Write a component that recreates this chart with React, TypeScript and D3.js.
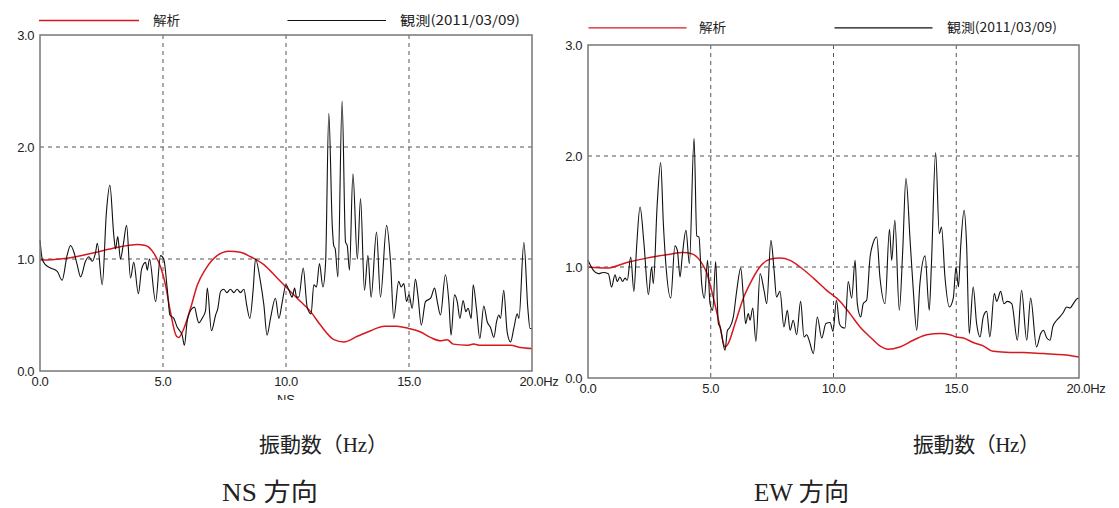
import React from "react";
import * as d3 from "d3";

type P = [number, number];

const xTicks = [0, 5, 10, 15, 20];
const yTicks = [0, 1, 2, 3];
const xTickLabels = ["0.0", "5.0", "10.0", "15.0", "20.0"];
const yTickLabels = ["0.0", "1.0", "2.0", "3.0"];
const legendLabels = ["解析", "観測(2011/03/09)"];
const axisTitle = "振動数（Hz）";
const panelTitles = ["NS 方向", "EW 方向"];

// NS observed spectrum ratio (frequency Hz, value)
const nsObserved: P[] = [
  [0, 1.17], [0.09, 1.0], [0.22, 0.95], [0.43, 0.92], [0.7, 0.89], [0.9, 0.81], [1.1, 1.03], [1.24, 1.12],
  [1.38, 1.06], [1.51, 0.95], [1.65, 0.84], [1.85, 0.98], [1.99, 1.02], [2.12, 0.98], [2.26, 1.06], [2.33, 1.14],
  [2.53, 0.77], [2.7, 1.42], [2.84, 1.66], [3.0, 1.21], [3.07, 1.09], [3.16, 1.2], [3.27, 1.0], [3.38, 1.12],
  [3.52, 1.3], [3.68, 0.83], [3.81, 0.97], [4.0, 0.69], [4.13, 0.91], [4.29, 0.97], [4.36, 0.9], [4.45, 1.0],
  [4.7, 0.62], [4.9, 1.03], [5.03, 1.0], [5.17, 0.74], [5.28, 0.5], [5.44, 0.47], [5.58, 0.39], [5.68, 0.36],
  [5.78, 0.32], [5.87, 0.23], [5.98, 0.44], [6.12, 0.54], [6.28, 0.57], [6.39, 0.47], [6.45, 0.43], [6.59, 0.47],
  [6.73, 0.54], [6.8, 0.74], [6.97, 0.36], [7.14, 0.5], [7.23, 0.56], [7.34, 0.71], [7.47, 0.73], [7.6, 0.7],
  [7.74, 0.73], [7.88, 0.7], [8.01, 0.73], [8.15, 0.7], [8.29, 0.73], [8.4, 0.59], [8.53, 0.47], [8.67, 0.74],
  [8.76, 1.0], [8.96, 0.8], [9.1, 0.59], [9.23, 0.32], [9.37, 0.47], [9.57, 0.65], [9.71, 0.47], [9.85, 0.62],
  [10.0, 0.77], [10.12, 0.72], [10.25, 0.66], [10.35, 0.74], [10.43, 0.66], [10.52, 0.66], [10.7, 0.92], [10.86, 0.57],
  [11.02, 0.51], [11.13, 0.77], [11.24, 0.75], [11.36, 0.96], [11.5, 0.75], [11.61, 0.97], [11.74, 2.3], [11.88, 1.3],
  [11.94, 1.12], [12.0, 1.09], [12.11, 0.84], [12.28, 2.41], [12.42, 1.15], [12.49, 1.12], [12.58, 0.9], [12.72, 1.76],
  [12.9, 1.0], [13.03, 1.54], [13.19, 0.72], [13.33, 1.03], [13.46, 0.66], [13.68, 1.24], [13.84, 0.66], [14.09, 1.3],
  [14.25, 0.97], [14.38, 0.47], [14.58, 0.8], [14.68, 0.75], [14.79, 0.78], [14.9, 0.62], [15.0, 0.68], [15.13, 0.56],
  [15.26, 0.82], [15.36, 0.68], [15.5, 0.41], [15.67, 0.62], [15.88, 0.65], [16.04, 0.74], [16.15, 0.62], [16.28, 0.5],
  [16.48, 0.86], [16.62, 0.62], [16.71, 0.32], [16.85, 0.68], [16.96, 0.62], [17.07, 0.47], [17.2, 0.63], [17.31, 0.53],
  [17.4, 0.56], [17.53, 0.47], [17.61, 0.77], [17.74, 0.56], [17.88, 0.29], [18.04, 0.58], [18.18, 0.44], [18.31, 0.39],
  [18.45, 0.3], [18.56, 0.44], [18.65, 0.5], [18.72, 0.47], [18.85, 0.72], [18.99, 0.35], [19.13, 0.26], [19.26, 0.38],
  [19.4, 0.51], [19.47, 0.47], [19.67, 1.15], [19.83, 0.56], [19.92, 0.38], [20.0, 0.38],
];

// NS analysis
const nsAnalysis: P[] = [
  [0, 0.99], [0.83, 1.0], [1.65, 1.03], [2.46, 1.07], [3.27, 1.11], [3.95, 1.13], [4.29, 1.12], [4.63, 1.05],
  [4.9, 0.93], [5.1, 0.77], [5.3, 0.53], [5.55, 0.31], [5.64, 0.3], [5.85, 0.38], [6.12, 0.56], [6.4, 0.77],
  [6.73, 0.91], [7.2, 1.03], [7.68, 1.07], [8.15, 1.06], [8.56, 1.02], [9.1, 0.95], [9.64, 0.83], [10.18, 0.71],
  [10.59, 0.62], [11.0, 0.53], [11.4, 0.41], [11.95, 0.28], [12.35, 0.26], [12.9, 0.31], [13.44, 0.36], [14.0, 0.4],
  [14.5, 0.4], [14.98, 0.38], [15.45, 0.35], [15.87, 0.3], [16.28, 0.27], [16.55, 0.28], [16.8, 0.24], [17.36, 0.23],
  [17.63, 0.24], [17.9, 0.23], [18.5, 0.23], [19.13, 0.23], [19.53, 0.21], [20.0, 0.2],
];

// EW observed
const ewObserved: P[] = [
  [0, 1.06], [0.22, 0.97], [0.42, 0.94], [0.62, 0.95], [0.83, 0.94], [0.96, 0.82], [1.1, 0.93], [1.19, 0.87],
  [1.3, 0.91], [1.41, 0.87], [1.51, 0.9], [1.6, 0.88], [1.74, 1.09], [1.87, 0.78], [1.98, 1.18], [2.12, 1.54],
  [2.28, 1.21], [2.46, 0.75], [2.59, 1.0], [2.66, 0.85], [2.82, 1.57], [2.96, 1.94], [3.07, 1.39], [3.18, 1.0],
  [3.37, 0.72], [3.54, 1.19], [3.64, 1.15], [3.75, 0.91], [3.84, 1.1], [3.99, 1.33], [4.13, 1.03], [4.32, 2.16],
  [4.43, 1.28], [4.52, 1.27], [4.63, 0.85], [4.74, 0.72], [4.87, 1.06], [4.97, 0.67], [5.08, 0.61], [5.2, 1.05],
  [5.31, 0.49], [5.38, 0.46], [5.58, 0.25], [5.68, 0.43], [5.76, 0.45], [5.92, 0.55], [6.06, 0.79], [6.22, 0.99],
  [6.33, 0.73], [6.42, 0.49], [6.53, 0.58], [6.6, 0.52], [6.71, 0.63], [6.84, 0.33], [7.01, 0.94], [7.17, 0.79],
  [7.28, 0.67], [7.45, 1.24], [7.58, 0.97], [7.68, 0.73], [7.82, 0.78], [7.98, 0.46], [8.12, 0.61], [8.23, 0.43],
  [8.36, 0.52], [8.5, 0.39], [8.66, 0.69], [8.8, 0.37], [8.91, 0.39], [9.02, 0.33], [9.18, 0.22], [9.34, 0.55],
  [9.52, 0.36], [9.69, 0.49], [9.86, 0.5], [9.98, 0.42], [10.12, 0.7], [10.24, 0.49], [10.33, 0.46], [10.47, 0.45],
  [10.6, 0.87], [10.74, 0.72], [10.88, 1.06], [10.97, 0.67], [11.11, 0.55], [11.21, 0.67], [11.35, 0.7], [11.49, 1.09],
  [11.62, 1.22], [11.76, 1.27], [11.89, 0.91], [12.1, 0.67], [12.28, 1.34], [12.37, 1.06], [12.5, 1.42], [12.68, 0.61],
  [12.82, 1.15], [12.95, 1.8], [13.12, 1.24], [13.25, 0.79], [13.39, 0.43], [13.52, 0.85], [13.73, 1.1], [13.9, 0.61],
  [13.99, 1.03], [14.16, 2.03], [14.31, 1.3], [14.4, 1.36], [14.54, 0.91], [14.72, 0.64], [14.88, 0.72], [14.99, 1.0],
  [15.09, 0.82], [15.18, 1.18], [15.32, 1.51], [15.42, 1.21], [15.53, 0.4], [15.69, 0.82], [15.83, 0.49], [15.97, 0.37],
  [16.1, 0.55], [16.24, 0.6], [16.37, 0.37], [16.55, 0.76], [16.65, 0.69], [16.81, 0.78], [16.94, 0.67], [17.08, 0.69],
  [17.26, 0.67], [17.49, 0.34], [17.66, 0.79], [17.87, 0.34], [18.03, 0.72], [18.27, 0.28], [18.44, 0.4], [18.55, 0.43],
  [18.69, 0.36], [18.82, 0.34], [18.93, 0.46], [19.09, 0.52], [19.22, 0.55], [19.36, 0.59], [19.5, 0.64], [19.63, 0.63],
  [19.77, 0.67], [19.9, 0.71], [20.0, 0.72],
];

// EW analysis
const ewAnalysis: P[] = [
  [0, 1.0], [0.76, 0.99], [1.58, 1.04], [2.39, 1.08], [3.2, 1.11], [3.88, 1.13], [4.22, 1.12], [4.56, 1.06],
  [4.83, 0.95], [5.1, 0.73], [5.38, 0.46], [5.58, 0.28], [5.71, 0.31], [5.99, 0.49], [6.33, 0.72], [6.67, 0.88],
  [7.0, 1.0], [7.41, 1.07], [7.82, 1.08], [8.23, 1.06], [8.64, 1.0], [9.18, 0.9], [9.72, 0.79], [10.27, 0.69],
  [10.67, 0.58], [11.08, 0.46], [11.49, 0.37], [11.89, 0.29], [12.23, 0.26], [12.7, 0.28], [13.25, 0.34], [13.8, 0.39],
  [14.34, 0.4], [14.75, 0.39], [14.99, 0.37], [15.29, 0.36], [15.69, 0.32], [16.1, 0.29], [16.5, 0.24], [17.19, 0.23],
  [17.73, 0.23], [18.55, 0.22], [19.36, 0.21], [20.0, 0.19],
];

const RED = "#d7191f";
const tickFont = "'Liberation Sans', Arial, sans-serif";
const jpFont = "'Noto Sans CJK JP', sans-serif";
const serifFont = "'Liberation Serif', 'Noto Sans CJK JP', serif";

interface PanelProps {
  id: string;
  left: number;
  right: number;
  top: number;
  bottom: number;
  observed: P[];
  analysis: P[];
  legendY: number;
  legend: { red: [number, number]; anaText: number; black: [number, number]; obsText: [number, number] };
  titleX: [number, number];
  titleY: number;
  dirX: [number, number];
  dirY: number;
  dirTitle: string;
  clippedNS?: boolean;
}

function Panel(p: PanelProps) {
  const x = d3.scaleLinear().domain([0, 20]).range([p.left, p.right]);
  const y = d3.scaleLinear().domain([0, 3]).range([p.bottom, p.top]);
  const line = d3
    .line<P>()
    .x((d) => x(d[0]))
    .y((d) => y(d[1]))
    .curve(d3.curveMonotoneX);

  return (
    <g>
      {/* legend */}
      <line x1={p.legend.red[0]} x2={p.legend.red[1]} y1={p.legendY} y2={p.legendY} stroke={RED} strokeWidth={1.3} />
      <text x={p.legend.anaText} y={p.legendY + 4.5} fontFamily={jpFont} fontSize={13} fill="#222"
        textLength={27} lengthAdjust="spacingAndGlyphs">{legendLabels[0]}</text>
      <line x1={p.legend.black[0]} x2={p.legend.black[1]} y1={p.legendY} y2={p.legendY} stroke="#111" strokeWidth={1.2} />
      <text x={p.legend.obsText[0]} y={p.legendY + 4.5} fontFamily={jpFont} fontSize={13} fill="#222"
        textLength={p.legend.obsText[1] - p.legend.obsText[0]} lengthAdjust="spacingAndGlyphs">{legendLabels[1]}</text>

      {/* grid */}
      {xTicks.slice(1, -1).map((t) => (
        <line key={"gx" + t} x1={x(t)} x2={x(t)} y1={p.top} y2={p.bottom} stroke="#555" strokeWidth={1} strokeDasharray="4,4" />
      ))}
      {yTicks.slice(1, -1).map((t) => (
        <line key={"gy" + t} x1={p.left} x2={p.right} y1={y(t)} y2={y(t)} stroke="#555" strokeWidth={1} strokeDasharray="4,4" />
      ))}

      {/* curves */}
      <path d={line(p.analysis) || ""} fill="none" stroke={RED} strokeWidth={1.5} />
      <path d={line(p.observed) || ""} fill="none" stroke="#111" strokeWidth={1.1} />

      {/* frame */}
      <rect x={p.left} y={p.top} width={p.right - p.left} height={p.bottom - p.top} fill="none" stroke="#777" strokeWidth={1.5} />

      {/* y tick labels */}
      {yTicks.map((t, i) => (
        <text key={"yl" + t} x={p.left - 6} y={y(t)} dy="0.35em" textAnchor="end" fontFamily={tickFont} fontSize={13}
          letterSpacing={-0.4} fill="#222">{yTickLabels[i]}</text>
      ))}
      {/* x tick labels */}
      {xTicks.map((t, i) =>
        i < xTicks.length - 1 ? (
          <text key={"xl" + t} x={x(t)} y={p.bottom + 15} textAnchor="middle" fontFamily={tickFont} fontSize={13}
            letterSpacing={-0.4} fill="#222">{xTickLabels[i]}</text>
        ) : (
          <text key={"xl" + t} x={x(t) - 12.5} y={p.bottom + 15} textAnchor="start" fontFamily={tickFont} fontSize={13}
            letterSpacing={-0.4} fill="#222">{xTickLabels[i] + "Hz"}</text>
        )
      )}

      {p.clippedNS && (
        <g clipPath={`url(#clip-${p.id})`}>
          <defs>
            <clipPath id={`clip-${p.id}`}>
              <rect x={p.left} y={390} width={p.right - p.left} height={10} />
            </clipPath>
          </defs>
          <text x={x(10)} y={404} textAnchor="middle" fontFamily={tickFont} fontSize={13} fill="#222">NS</text>
        </g>
      )}

      {/* axis title */}
      <text x={p.titleX[0]} y={p.titleY} fontFamily={serifFont} fontSize={21} fill="#222"
        textLength={p.titleX[1] - p.titleX[0]} lengthAdjust="spacing">{axisTitle}</text>
      <text x={p.dirX[0]} y={p.dirY} fontFamily={serifFont} fontSize={25} fill="#222"
        textLength={p.dirX[1] - p.dirX[0]} lengthAdjust="spacingAndGlyphs">{p.dirTitle}</text>
    </g>
  );
}

export default function App() {
  return (
    <svg width={1119} height={508} style={{ position: "absolute", left: 0, top: 0, background: "#fff" }}>
      <rect x={0} y={0} width={1119} height={508} fill="#fff" />
      <Panel
        id="ns"
        left={40}
        right={532}
        top={35}
        bottom={371}
        observed={nsObserved}
        analysis={nsAnalysis}
        legendY={20.5}
        legend={{ red: [39, 139], anaText: 153, black: [287.5, 386], obsText: [400, 520] }}
        titleX={[259, 388]}
        titleY={452}
        dirX={[222, 318]}
        dirY={501}
        dirTitle={panelTitles[0]}
        clippedNS
      />
      <Panel
        id="ew"
        left={588}
        right={1079}
        top={45}
        bottom={378}
        observed={ewObserved}
        analysis={ewAnalysis}
        legendY={27.8}
        legend={{ red: [588.5, 686.6], anaText: 699, black: [834.5, 932.5], obsText: [947, 1057] }}
        titleX={[913, 1040]}
        titleY={452}
        dirX={[754, 849]}
        dirY={501}
        dirTitle={panelTitles[1]}
      />
    </svg>
  );
}
